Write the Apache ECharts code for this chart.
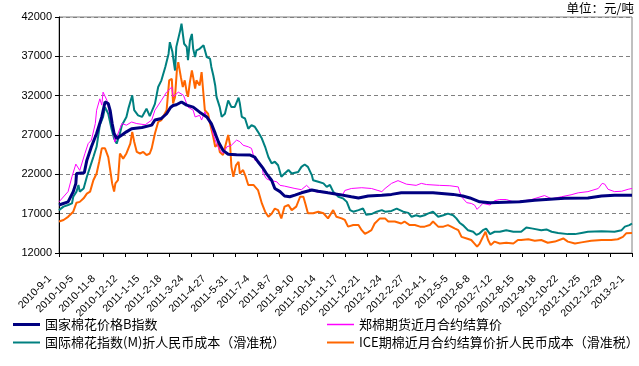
<!DOCTYPE html>
<html>
<head>
<meta charset="utf-8">
<script src="https://cdn.jsdelivr.net/npm/echarts@6/dist/echarts.min.js"></script>
<style>
html,body{margin:0;padding:0;background:#fff;}
#chart{width:639px;height:366px;}
</style>
</head>
<body>
<div id="chart"></div>
<script>
// x = days since 2010-9-1
const xTickLabels = ['2010-9-1','2010-10-5','2010-11-8','2010-12-12','2011-1-15','2011-2-18','2011-3-24','2011-4-27','2011-5-31','2011-7-4','2011-8-7','2011-9-10','2011-10-14','2011-11-17','2011-12-21','2012-1-24','2012-2-27','2012-4-1','2012-5-5','2012-6-8','2012-7-12','2012-8-15','2012-9-18','2012-10-22','2012-11-25','2012-12-29','2013-2-1'];
const seriesNames = ['国家棉花价格B指数','郑棉期货近月合约结算价','国际棉花指数(M)折人民币成本（滑准税）','ICE期棉近月合约结算价折人民币成本（滑准税）'];

const bIndex = [[0,18100],[14,18500],[22,19800],[26,20850],[27,22100],[39,22200],[43,23800],[50,25500],[58,27200],[66,29300],[71,31200],[76,31000],[79,30100],[82,28450],[85,27200],[89,26550],[92,26350],[97,27000],[104,27400],[112,27800],[128,27950],[143,28250],[148,28900],[158,29100],[166,29700],[172,30500],[176,30750],[181,30850],[189,31200],[197,30800],[207,30550],[217,29900],[228,29300],[235,28450],[241,27200],[246,26100],[253,25050],[261,24550],[274,24500],[295,24450],[302,24200],[307,23600],[315,22750],[320,22100],[328,21250],[333,20200],[341,19800],[348,19250],[356,19150],[364,19350],[374,19650],[390,20000],[400,19850],[415,19650],[431,19450],[451,19150],[462,19000],[477,19250],[498,19350],[513,19450],[528,19650],[541,19650],[577,19650],[608,19450],[623,19250],[634,19000],[649,18500],[665,18400],[711,18500],[734,18700],[780,18950],[816,19000],[837,19250],[857,19350],[884,19350]];

const zceNear = [[0,18500],[14,19800],[20,21700],[26,23300],[32,22500],[40,24650],[45,25900],[50,26350],[56,28450],[58,30150],[63,31600],[66,30800],[68,32450],[71,32700],[74,31400],[79,29300],[84,27600],[86,26100],[89,25900],[97,28450],[104,28250],[112,28650],[120,28450],[133,28300],[143,28900],[148,30150],[158,31400],[166,32450],[174,33100],[176,31850],[184,32450],[192,32050],[199,30550],[207,30150],[210,29300],[217,29500],[220,28900],[225,29950],[230,28900],[235,28250],[238,27000],[243,25900],[248,25050],[253,24650],[259,25500],[266,25700],[274,26350],[279,26150],[284,25700],[292,25500],[297,25300],[302,23800],[307,23600],[313,23150],[315,22100],[320,21450],[325,21250],[336,21050],[341,20600],[348,20500],[364,20200],[374,20050],[382,20600],[390,19950],[400,19700],[415,19650],[426,19550],[438,19450],[441,19950],[451,20200],[467,20300],[482,20200],[492,19950],[498,19800],[503,20200],[513,20850],[523,21200],[526,21050],[536,20750],[551,20600],[559,20850],[567,20700],[587,20600],[603,20550],[616,20400],[618,19800],[621,19150],[629,18400],[636,18300],[641,18100],[645,17550],[649,17900],[654,18300],[665,18100],[672,18650],[680,18800],[690,18800],[701,18500],[718,18650],[729,18800],[739,19050],[749,19300],[760,18900],[775,19150],[790,19400],[801,19650],[816,19800],[832,20200],[838,20850],[842,20750],[847,20100],[857,19800],[868,19850],[878,20100],[884,20200]];

const mIndexRmb = [[0,17450],[7,17900],[14,18100],[20,18300],[22,19150],[27,19800],[30,20650],[32,19800],[38,20200],[43,21700],[48,22950],[53,24200],[58,25500],[63,28250],[68,29300],[71,30550],[76,29700],[81,27800],[85,26550],[89,25900],[94,27200],[97,28250],[104,29300],[107,30350],[113,32050],[116,30150],[122,29500],[128,29300],[135,30350],[140,29400],[148,30950],[153,33100],[158,33950],[164,35650],[169,37300],[171,38800],[175,37550],[176,36900],[179,35200],[181,38200],[187,40300],[189,41150],[193,38600],[197,38200],[199,36500],[202,39000],[205,39850],[207,37950],[210,36900],[212,37750],[217,37950],[223,38400],[228,36900],[233,36700],[235,35650],[238,34600],[241,33300],[243,31850],[248,30550],[251,29300],[256,29700],[261,31400],[266,30550],[271,30550],[277,31750],[279,31000],[282,29300],[287,29100],[292,27800],[297,28250],[302,28050],[307,27400],[313,26550],[318,25500],[323,24200],[328,23400],[333,23600],[338,23150],[343,21700],[348,22100],[354,22550],[359,22100],[369,22300],[374,22950],[379,23250],[384,22950],[390,21900],[392,21250],[400,21050],[408,20850],[413,20400],[418,20650],[423,19800],[431,19150],[438,18950],[444,18500],[449,17450],[454,17250],[462,17450],[469,17650],[474,16850],[482,16950],[490,17250],[498,17450],[503,17250],[513,17350],[521,17650],[526,17450],[531,17250],[539,17100],[544,16600],[551,16800],[557,16650],[564,16800],[569,17000],[577,17250],[585,16600],[593,16800],[600,17000],[608,16800],[613,16400],[618,15850],[623,15550],[631,14900],[639,14700],[644,14300],[649,14500],[654,14900],[659,15100],[665,14400],[672,14700],[680,14700],[690,14900],[701,14700],[713,14700],[721,15250],[731,15100],[744,14900],[752,15000],[760,14700],[770,14550],[785,14400],[796,14400],[806,14550],[816,14700],[837,14750],[857,14700],[868,14900],[873,15350],[880,15550],[884,15750]];

const iceRmb = [[0,16000],[7,16200],[14,16600],[22,17250],[27,18400],[32,18500],[38,18950],[43,19550],[48,19800],[53,21250],[58,22100],[62,23600],[66,25300],[71,25300],[76,24200],[79,22550],[82,20850],[85,19800],[87,20850],[91,21250],[94,24650],[99,24000],[104,24650],[110,25900],[113,27400],[116,26150],[120,24850],[125,24650],[130,24850],[135,24450],[140,24650],[143,25300],[148,27200],[153,28650],[158,28900],[166,30150],[170,33950],[174,34150],[176,31000],[179,31850],[182,35400],[184,36250],[188,34350],[191,33100],[194,33950],[197,32450],[199,31850],[202,33750],[205,35200],[207,34350],[210,32900],[212,33950],[217,33300],[220,35000],[223,32050],[225,30150],[230,29700],[233,28450],[235,28250],[238,26750],[241,25500],[246,25900],[248,24850],[253,24450],[259,26350],[261,27000],[264,25700],[266,22950],[269,21700],[273,23150],[277,23600],[279,22100],[284,22550],[288,21700],[292,20650],[300,20650],[307,20000],[313,18300],[318,17250],[323,16600],[328,17000],[333,17650],[338,17450],[343,16400],[346,16600],[348,17900],[354,18100],[359,17450],[366,17900],[372,19150],[377,19150],[380,18300],[384,17050],[392,17050],[400,17250],[408,17050],[415,16400],[423,17450],[428,16600],[436,16400],[441,16200],[446,15350],[454,15550],[462,15550],[467,14900],[472,14450],[477,14650],[482,14900],[487,15750],[495,16400],[503,16400],[508,16000],[518,16000],[528,15750],[533,16000],[541,15550],[549,15550],[557,15350],[564,15350],[572,15550],[577,16000],[585,15350],[593,15350],[600,15550],[605,15350],[611,15100],[616,14900],[621,14050],[629,13850],[636,13650],[641,13200],[645,12800],[649,13200],[654,14050],[658,14700],[662,13650],[666,13000],[672,13450],[680,13200],[690,13300],[701,13200],[708,13650],[713,13650],[724,13750],[734,13550],[744,13650],[754,13300],[765,13450],[778,13850],[785,13450],[796,13200],[806,13350],[821,13550],[837,13650],[852,13650],[862,13750],[870,14050],[875,14500],[884,14550]];

const TICK_DAYS = 34;
const chart = echarts.init(document.getElementById('chart'), null, {renderer: 'canvas'});
const cjk = '"Noto Sans CJK SC", "Noto Sans", sans-serif';
const lineIcon = function (h) { return 'path://M0,0H27V' + h + 'H0Z'; };
const legendText = {fontSize: 13, color: '#000', fontFamily: cjk};
const option = {
  animation: false,
  backgroundColor: '#ffffff',
  title: {
    text: '单位：元/吨', right: 5, top: 2, padding: 0,
    textStyle: {fontSize: 12.5, fontWeight: 'normal', color: '#000', fontFamily: cjk}
  },
  grid: {left: 59, right: 7, top: 17, bottom: 113, show: true, borderColor: '#808080', borderWidth: 1, backgroundColor: '#fff'},
  legend: [
    {orient: 'vertical', left: 13, top: 318, padding: 0, itemWidth: 27, itemHeight: 12, itemGap: 5,
     symbolKeepAspect: true,
     data: [{name: seriesNames[0], icon: lineIcon(3)}, {name: seriesNames[2], icon: lineIcon(2)}],
     textStyle: legendText},
    {orient: 'vertical', left: 327, top: 318, padding: 0, itemWidth: 27, itemHeight: 12, itemGap: 5,
     symbolKeepAspect: true,
     data: [{name: seriesNames[1], icon: lineIcon(1.5)}, {name: seriesNames[3], icon: lineIcon(2)}],
     textStyle: legendText}
  ],
  xAxis: {
    type: 'value', min: 0, max: 884, interval: TICK_DAYS,
    axisLine: {show: true, lineStyle: {color: '#000', width: 1}},
    axisTick: {show: true, length: 4, lineStyle: {color: '#000'}},
    splitLine: {show: false},
    axisLabel: {
      rotate: 45, fontSize: 10.5, color: '#000', margin: 15, padding: [0, 13, 0, 0],
      fontFamily: 'Liberation Sans, sans-serif',
      formatter: function (v) { return xTickLabels[Math.round(v / TICK_DAYS)] || ''; }
    }
  },
  yAxis: {
    type: 'value', min: 12000, max: 42000, interval: 5000,
    axisLine: {show: true, lineStyle: {color: '#000', width: 1}},
    axisTick: {show: true, length: 4, lineStyle: {color: '#000'}},
    splitLine: {show: true, lineStyle: {color: '#808080', type: [4, 3], width: 1}},
    axisLabel: {fontSize: 11, color: '#000', margin: 7, fontFamily: 'Liberation Sans, sans-serif',
      formatter: function (v) { return String(v); }}
  },
  series: [
    {name: seriesNames[3], type: 'line', data: iceRmb, showSymbol: false, symbol: 'none',
     lineStyle: {color: '#FF6600', width: 2}, itemStyle: {color: '#FF6600'}},
    {name: seriesNames[2], type: 'line', data: mIndexRmb, showSymbol: false, symbol: 'none',
     lineStyle: {color: '#008080', width: 2}, itemStyle: {color: '#008080'}},
    {name: seriesNames[1], type: 'line', data: zceNear, showSymbol: false, symbol: 'none',
     lineStyle: {color: '#FF00FF', width: 1}, itemStyle: {color: '#FF00FF'}},
    {name: seriesNames[0], type: 'line', data: bIndex, showSymbol: false, symbol: 'none',
     lineStyle: {color: '#000080', width: 3}, itemStyle: {color: '#000080'}}
  ]
};
chart.setOption(option);
</script>
</body>
</html>
